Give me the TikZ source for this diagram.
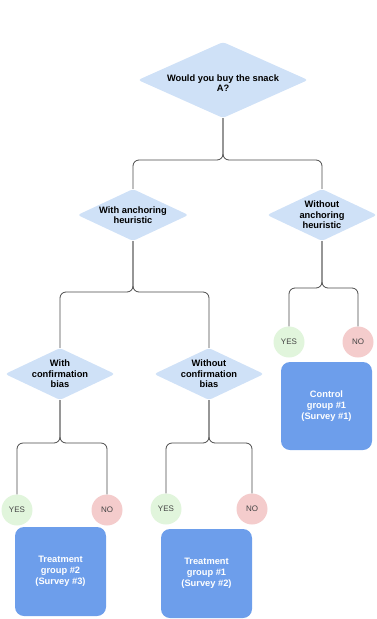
\documentclass[tikz,border=0pt]{standalone}
\usepackage{fontspec}
\setmainfont{Liberation Sans}
\usetikzlibrary{shapes.geometric}
\definecolor{diafill}{HTML}{CFE1F7}
\definecolor{boxfill}{HTML}{6D9EEB}
\definecolor{yesfill}{HTML}{E1F5DC}
\definecolor{nofill}{HTML}{F4CCCC}
\definecolor{linecol}{HTML}{4A4A4A}
\definecolor{circtext}{HTML}{444444}
\tikzset{
  dia/.style={diamond, fill=diafill, inner sep=0pt, rounded corners=3pt, minimum width=110pt, minimum height=52pt},
  dtext/.style={font=\fontsize{9.3}{10.6}\selectfont\bfseries, align=center, text=black, inner sep=0pt},
  conn/.style={draw=linecol, line width=0.8pt, rounded corners=6pt},
  yes/.style={circle, fill=yesfill, minimum size=31pt, inner sep=0pt, font=\fontsize{8}{9}\selectfont, text=circtext},
  no/.style={circle, fill=nofill, minimum size=31pt, inner sep=0pt, font=\fontsize{8}{9}\selectfont, text=circtext},
  grp/.style={rectangle, rounded corners=9pt, fill=boxfill, minimum width=91pt, minimum height=89pt, inner sep=0pt, text=white, align=center, font=\fontsize{9.3}{11}\selectfont\bfseries}
}
\begin{document}
\begin{tikzpicture}[x=1pt, y=-1pt]
\useasboundingbox (0,0) rectangle (376,619);
% diamonds
\node[dia, minimum width=170pt, minimum height=76pt, label={[dtext, yshift=-3pt]center:Would you buy the snack\\A?}] (top) at (223,80) {};
\node[dia, minimum width=111pt, label={[dtext]center:With anchoring\\heuristic}] (anch) at (133,215) {};
\node[dia, label={[dtext]center:Without\\anchoring\\heuristic}] (noanch) at (322,215) {};
\node[dia, label={[dtext]center:With\\confirmation\\bias}] (conf) at (60,374) {};
\node[dia, label={[dtext]center:Without\\confirmation\\bias}] (noconf) at (209,374) {};
% circles
\node[yes] (y1) at (289,342) {YES};
\node[no]  (n1) at (358,342) {NO};
\node[yes] (y2) at (17,510) {YES};
\node[no]  (n2) at (107,510) {NO};
\node[yes] (y3) at (166,509) {YES};
\node[no]  (n3) at (252,509) {NO};
% boxes
\node[grp, minimum height=88pt] (ctrl) at (326.5,406) {Control\\group \#1\\(Survey \#1)};
\node[grp] (t2) at (60.5,571.5) {Treatment\\group \#2\\(Survey \#3)};
\node[grp] (t1) at (206.5,573.5) {Treatment\\group \#1\\(Survey \#2)};
% split levels
\coordinate (s1) at (0,160);
\coordinate (s2) at (0,288);
\coordinate (s3) at (0,292);
\coordinate (s4) at (0,443);
% connectors
\draw[conn] (top.south) -- (top.south |- s1) -| (anch.north);
\draw[conn] (top.south) -- (top.south |- s1) -| (noanch.north);
\draw[conn] (noanch.south) -- (noanch.south |- s2) -| (y1.north);
\draw[conn] (noanch.south) -- (noanch.south |- s2) -| (n1.north);
\draw[conn] (anch.south) -- (anch.south |- s3) -| (conf.north);
\draw[conn] (anch.south) -- (anch.south |- s3) -| (noconf.north);
\draw[conn] (conf.south) -- (conf.south |- s4) -| (y2.north);
\draw[conn] (conf.south) -- (conf.south |- s4) -| (n2.north);
\draw[conn] (noconf.south) -- (noconf.south |- s4) -| (y3.north);
\draw[conn] (noconf.south) -- (noconf.south |- s4) -| (n3.north);
\end{tikzpicture}
\end{document}
